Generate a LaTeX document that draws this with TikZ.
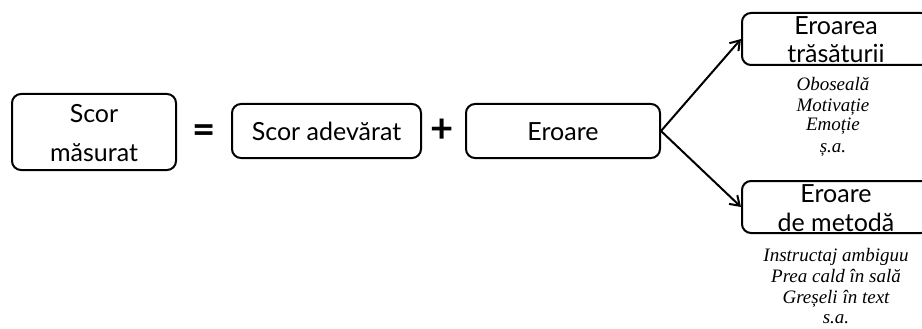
\documentclass[tikz,border=0pt]{standalone}
\usepackage{fontspec}
\setmainfont{Lato}
\newfontfamily\notefont{Liberation Serif}
\usetikzlibrary{arrows.meta}

\tikzset{
  box/.style={draw=black, line width=2pt, rounded corners=9pt, inner sep=0pt},
  boxtext/.style={font=\fontsize{25}{28}\selectfont, inner sep=0pt},
  note/.style={font=\notefont\itshape\fontsize{19}{22}\selectfont, inner sep=0pt, anchor=base},
  sign/.style={font=\bfseries\fontsize{40}{42}\selectfont, inner sep=0pt},
  link/.style={line width=2pt, -{Straight Barb[length=9pt,width=12pt,line width=2pt]}}
}

\begin{document}
\begin{tikzpicture}[x=1pt,y=-1pt]
  \useasboundingbox (0,0) rectangle (922,329);
  \clip (0,0) rectangle (922,329);

  % equation row
  \node[box, minimum width=164pt, minimum height=76pt] (measured) at (94,132) {};
  \node[boxtext, anchor=base] (measured1) at (94,123) {Scor};
  \node[boxtext, anchor=base] (measured2) at (94,161) {măsurat};

  \node[sign] (eq) at (204,134) {=};

  \node[box, minimum width=189pt, minimum height=54pt] (truescore) at (326.5,131) {};
  \node[boxtext, anchor=base] (truetext) at (326.5,140) {Scor adevărat};

  \node[sign] (plus) at (442,131) {+};

  \node[box, minimum width=194pt, minimum height=54pt] (error) at (563,131) {};
  \node[boxtext, anchor=base] (errortext) at (563,140) {Eroare};

  % error branches
  \node[box, minimum width=188pt, minimum height=52pt] (trait) at (836,39) {};
  \node[boxtext, anchor=base] (trait1) at (836,35) {Eroarea};
  \node[boxtext, anchor=base] (trait2) at (836,63) {trăsăturii};

  \node[box, minimum width=188pt, minimum height=52pt] (method) at (836,207) {};
  \node[boxtext, anchor=base] (method1) at (836,202) {Eroare};
  \node[boxtext, anchor=base] (method2) at (836,231) {de metodă};

  \draw[link] (error.east) -- (trait.west);
  \draw[link] (error.east) -- (method.west);

  % examples under each branch
  \node[note] (t1) at (833,91) {Oboseală};
  \node[note] (t2) at (833,111) {Motivație};
  \node[note] (t3) at (833,131) {Emoție};
  \node[note] (t4) at (833,152) {ș.a.};

  \node[note] (m1) at (836,261) {Instructaj ambiguu};
  \node[note] (m2) at (836,282) {Prea cald în sală};
  \node[note] (m3) at (836,303) {Greșeli în text};
  \node[note] (m4) at (836,323) {s.a.};
\end{tikzpicture}
\end{document}
